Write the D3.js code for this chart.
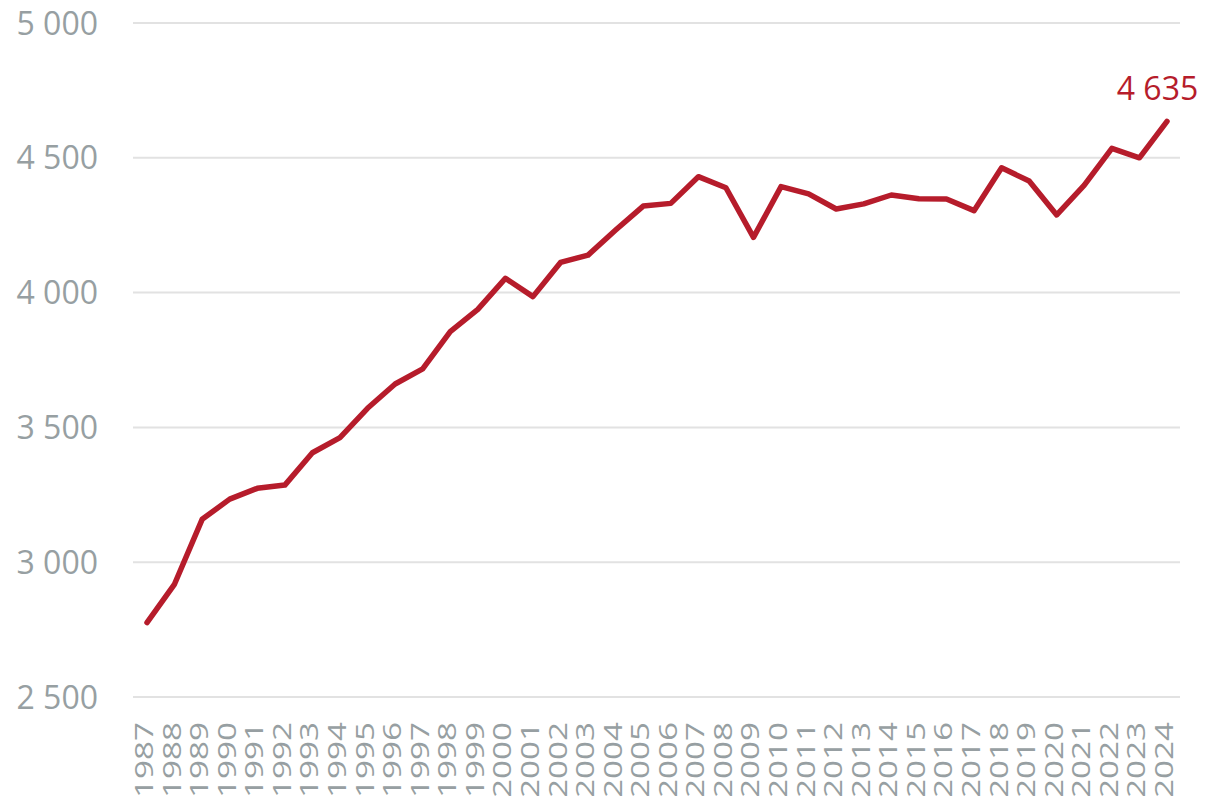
<!DOCTYPE html>
<html>
<head>
<meta charset="utf-8">
<script src="https://cdn.jsdelivr.net/npm/d3@7"></script>
<style>
  body { margin: 0; background: #fff; }
  svg { display: block; font-family: "Open Sans", sans-serif; }
</style>
</head>
<body>
<div id="chart"></div>
<script>
// data
var years = [1987, 1988, 1989, 1990, 1991, 1992, 1993, 1994, 1995, 1996,
             1997, 1998, 1999, 2000, 2001, 2002, 2003, 2004, 2005, 2006,
             2007, 2008, 2009, 2010, 2011, 2012, 2013, 2014, 2015, 2016,
             2017, 2018, 2019, 2020, 2021, 2022, 2023, 2024];
var values = [2776, 2919, 3159, 3234, 3274, 3286, 3406, 3462, 3571, 3661,
              3717, 3855, 3938, 4053, 3985, 4112, 4139, 4232, 4321, 4331,
              4430, 4389, 4205, 4393, 4366, 4310, 4329, 4362, 4348, 4347,
              4304, 4463, 4414, 4288, 4399, 4535, 4500, 4635];
var yTicks = [2500, 3000, 3500, 4000, 4500, 5000];

var width = 1209, height = 796;

var svg = d3.select("#chart")
  .append("svg")
    .attr("width", width)
    .attr("height", height);

var locale = d3.formatLocale({decimal: ",", thousands: " ", grouping: [3], currency: ["", ""]});
var fmt = locale.format(",");

// x scale: one point per year
var x = d3.scalePoint()
  .domain(years)
  .range([147, 1167]);

// y scale
var y = d3.scaleLinear()
  .domain([2500, 5000])
  .range([697, 23]);

// gridlines
svg.append("g")
  .selectAll("line")
  .data(yTicks)
  .enter().append("line")
    .attr("x1", 133)
    .attr("x2", 1180)
    .attr("y1", function(d) { return y(d); })
    .attr("y2", function(d) { return y(d); })
    .attr("stroke", "#e2e2e2")
    .attr("stroke-width", 2);

// y labels
svg.append("g")
  .selectAll("text")
  .data(yTicks)
  .enter().append("text")
    .attr("x", 98)
    .attr("y", function(d) { return y(d); })
    .attr("dy", "0.36em")
    .attr("text-anchor", "end")
    .attr("fill", "#979fa2")
    .style("font-size", "32px")
    .text(function(d) { return fmt(d); });

// x labels, rotated
svg.append("g")
  .selectAll("text")
  .data(years)
  .enter().append("text")
    .attr("transform", function(d) { return "translate(" + (x(d) + 6) + ",798) rotate(-90)"; })
    .attr("text-anchor", "start")
    .attr("fill", "#979fa2")
    .attr("textLength", 76)
    .attr("lengthAdjust", "spacingAndGlyphs")
    .style("font-size", "25px")
    .text(function(d) { return d; });

// the line
var data = years.map(function(d, i) { return {year: d, value: values[i]}; });
svg.append("path")
  .datum(data)
  .attr("fill", "none")
  .attr("stroke", "#b61c2b")
  .attr("stroke-width", 5.5)
  .attr("stroke-linejoin", "round")
  .attr("stroke-linecap", "round")
  .attr("d", d3.line()
    .x(function(d) { return x(d.year); })
    .y(function(d) { return y(d.value); }));

// last value label
var last = data[data.length - 1];
svg.append("text")
  .attr("x", x(last.year) - 9.5)
  .attr("y", y(last.value) - 21.5)
  .attr("text-anchor", "middle")
  .attr("fill", "#b61c2b")
  .style("font-size", "32px")
  .text(fmt(last.value));
</script>
</body>
</html>
